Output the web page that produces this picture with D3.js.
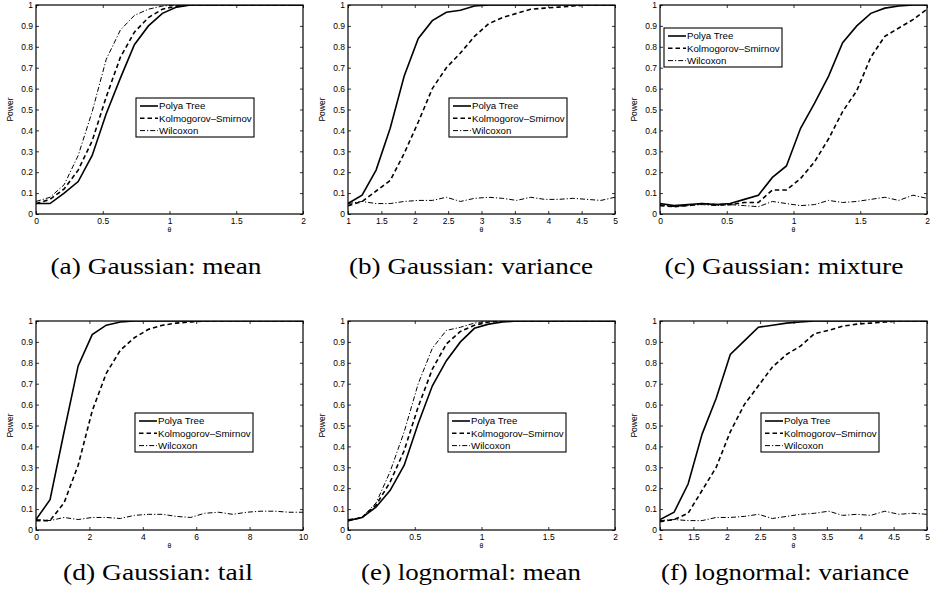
<!DOCTYPE html>
<html>
<head>
<meta charset="utf-8">
<script src="https://d3js.org/d3.v7.min.js"></script>
<style>
  body { margin: 0; background: #fff; }
  svg { display: block; }
  .tick text { font-family: "Liberation Sans", Arial, sans-serif; }
</style>
</head>
<body>
<div id="chart"></div>
<script>
// theta grids (20 points each)
const thetaA = [0, 0.105, 0.211, 0.316, 0.421, 0.526, 0.632, 0.737, 0.842, 0.947, 1.053, 1.158, 1.263, 1.368, 1.474, 1.579, 1.684, 1.789, 1.895, 2];
const thetaB = [1, 1.211, 1.421, 1.632, 1.842, 2.053, 2.263, 2.474, 2.684, 2.895, 3.105, 3.316, 3.526, 3.737, 3.947, 4.158, 4.368, 4.579, 4.789, 5];
const thetaD = [0, 0.526, 1.053, 1.579, 2.105, 2.632, 3.158, 3.684, 4.211, 4.737, 5.263, 5.789, 6.316, 6.842, 7.368, 7.895, 8.421, 8.947, 9.474, 10];

// (a) Gaussian: mean
const polyaA = [0.05, 0.05, 0.10, 0.155, 0.28, 0.48, 0.65, 0.81, 0.90, 0.96, 0.99, 1, 1, 1, 1, 1, 1, 1, 1, 1];
const ksA    = [0.05, 0.07, 0.12, 0.21, 0.35, 0.56, 0.75, 0.87, 0.94, 0.98, 0.995, 1, 1, 1, 1, 1, 1, 1, 1, 1];
const wilA   = [0.06, 0.08, 0.14, 0.28, 0.49, 0.74, 0.88, 0.95, 0.98, 0.995, 1, 1, 1, 1, 1, 1, 1, 1, 1, 1];

// (b) Gaussian: variance
const polyaB = [0.05, 0.09, 0.21, 0.41, 0.66, 0.84, 0.925, 0.965, 0.975, 0.995, 1, 1, 1, 1, 1, 1, 1, 1, 1, 1];
const ksB    = [0.04, 0.06, 0.11, 0.16, 0.29, 0.44, 0.60, 0.70, 0.77, 0.85, 0.91, 0.94, 0.96, 0.98, 0.985, 0.99, 0.995, 1, 1, 1];
const wilB   = [0.05, 0.06, 0.05, 0.05, 0.06, 0.065, 0.065, 0.08, 0.06, 0.075, 0.08, 0.075, 0.065, 0.08, 0.07, 0.07, 0.075, 0.07, 0.065, 0.08];

// (c) Gaussian: mixture
const polyaC = [0.05, 0.04, 0.045, 0.05, 0.045, 0.05, 0.07, 0.09, 0.175, 0.23, 0.41, 0.53, 0.66, 0.82, 0.90, 0.96, 0.985, 0.995, 1, 1];
const ksC    = [0.04, 0.035, 0.04, 0.05, 0.045, 0.045, 0.055, 0.055, 0.115, 0.115, 0.17, 0.25, 0.36, 0.49, 0.59, 0.75, 0.85, 0.89, 0.93, 0.98];
const wilC   = [0.045, 0.035, 0.04, 0.045, 0.04, 0.045, 0.04, 0.035, 0.06, 0.05, 0.04, 0.045, 0.065, 0.055, 0.06, 0.07, 0.08, 0.065, 0.09, 0.075];

// (d) Gaussian: tail
const polyaD = [0.05, 0.145, 0.47, 0.785, 0.935, 0.98, 0.995, 1, 1, 1, 1, 1, 1, 1, 1, 1, 1, 1, 1, 1];
const ksD    = [0.045, 0.045, 0.13, 0.31, 0.57, 0.75, 0.86, 0.92, 0.96, 0.98, 0.99, 0.995, 1, 1, 1, 1, 1, 1, 1, 1];
const wilD   = [0.05, 0.045, 0.06, 0.05, 0.06, 0.06, 0.055, 0.07, 0.075, 0.075, 0.065, 0.06, 0.08, 0.085, 0.075, 0.085, 0.09, 0.09, 0.085, 0.085];

// (e) lognormal: mean
const polyaE = [0.045, 0.06, 0.11, 0.19, 0.31, 0.51, 0.69, 0.81, 0.90, 0.965, 0.985, 0.995, 1, 1, 1, 1, 1, 1, 1, 1];
const ksE    = [0.045, 0.06, 0.12, 0.23, 0.38, 0.59, 0.77, 0.89, 0.95, 0.98, 0.995, 1, 1, 1, 1, 1, 1, 1, 1, 1];
const wilE   = [0.05, 0.06, 0.13, 0.28, 0.47, 0.70, 0.87, 0.955, 0.97, 0.99, 1, 1, 1, 1, 1, 1, 1, 1, 1, 1];

// (f) lognormal: variance
const polyaF = [0.05, 0.085, 0.22, 0.46, 0.63, 0.84, 0.905, 0.97, 0.98, 0.99, 0.995, 1, 1, 1, 1, 1, 1, 1, 1, 1];
const ksF    = [0.04, 0.05, 0.08, 0.19, 0.30, 0.47, 0.60, 0.69, 0.78, 0.84, 0.88, 0.94, 0.955, 0.975, 0.985, 0.99, 0.995, 1, 1, 1];
const wilF   = [0.045, 0.05, 0.045, 0.045, 0.06, 0.06, 0.065, 0.075, 0.055, 0.065, 0.075, 0.08, 0.09, 0.07, 0.075, 0.07, 0.09, 0.075, 0.08, 0.075];

// tick values
const yTicks = [0, 0.1, 0.2, 0.3, 0.4, 0.5, 0.6, 0.7, 0.8, 0.9, 1];
const xTicks02 = [0, 0.5, 1, 1.5, 2];
const xTicks15 = [1, 1.5, 2, 2.5, 3, 3.5, 4, 4.5, 5];
const xTicks010 = [0, 2, 4, 6, 8, 10];

const seriesNames = ["Polya Tree", "Kolmogorov\u2013Smirnov", "Wilcoxon"];
const captions = ["(a) Gaussian: mean", "(b) Gaussian: variance", "(c) Gaussian: mixture",
                  "(d) Gaussian: tail", "(e) lognormal: mean", "(f) lognormal: variance"];

const width = 930, height = 601;
const plotW = 267, plotH = 209;

// line styles: solid, dashed, dash-dot
const styles = [
  {dash: null, w: 1.6},
  {dash: "4.5,3", w: 1.6},
  {dash: "5,2,1.2,2", w: 1}
];

const svg = d3.select("#chart").append("svg")
  .attr("width", width)
  .attr("height", height);

// cap = [centre x, baseline y, text width]
const panels = [
  {left: 36,  top: 5,   xDom: [0, 2],  xTicks: xTicks02,  theta: thetaA, ys: [polyaA, ksA, wilA], leg: [136, 98],  cap: [156, 274, 211]},
  {left: 348, top: 5,   xDom: [1, 5],  xTicks: xTicks15,  theta: thetaB, ys: [polyaB, ksB, wilB], leg: [449, 98],  cap: [471, 274, 244]},
  {left: 660, top: 5,   xDom: [0, 2],  xTicks: xTicks02,  theta: thetaA, ys: [polyaC, ksC, wilC], leg: [664, 28],  cap: [784, 274, 239]},
  {left: 36,  top: 321, xDom: [0, 10], xTicks: xTicks010, theta: thetaD, ys: [polyaD, ksD, wilD], leg: [135, 413], cap: [158, 580, 190]},
  {left: 348, top: 321, xDom: [0, 2],  xTicks: xTicks02,  theta: thetaA, ys: [polyaE, ksE, wilE], leg: [448, 413], cap: [471, 580, 220]},
  {left: 660, top: 321, xDom: [1, 5],  xTicks: xTicks15,  theta: thetaB, ys: [polyaF, ksF, wilF], leg: [761, 413], cap: [785, 580, 248]}
];

panels.forEach((p, idx) => {
  const g = svg.append("g").attr("transform", "translate(" + p.left + "," + p.top + ")");

  const X = d3.scaleLinear().domain(p.xDom).range([0, plotW]);
  const Y = d3.scaleLinear().domain([0, 1]).range([plotH, 0]);

  // lines (clipped)
  const clipId = "clip" + idx;
  g.append("clipPath").attr("id", clipId)
    .append("rect").attr("width", plotW).attr("height", plotH);

  const line = d3.line()
    .x((d) => X(d[0]))
    .y((d) => Y(d[1]));

  p.ys.forEach((vals, k) => {
    const pts = p.theta.map((t, i) => [t, vals[i]]);
    g.append("path")
      .datum(pts)
      .attr("clip-path", "url(#" + clipId + ")")
      .attr("d", line)
      .attr("fill", "none")
      .attr("stroke", "#000")
      .attr("stroke-width", styles[k].w)
      .attr("stroke-dasharray", styles[k].dash);
  });

  // axes: ticks pointing inward, on all four sides
  const fmt = (d) => String(d);
  const bottom = g.append("g").attr("transform", "translate(0," + plotH + ")")
    .call(d3.axisBottom(X).tickValues(p.xTicks).tickFormat(fmt).tickSizeInner(-3).tickSizeOuter(0).tickPadding(4));
  const left = g.append("g")
    .call(d3.axisLeft(Y).tickValues(yTicks).tickFormat(fmt).tickSizeInner(-3).tickSizeOuter(0).tickPadding(3));
  const top = g.append("g")
    .call(d3.axisTop(X).tickValues(p.xTicks).tickFormat("").tickSizeInner(-3).tickSizeOuter(0));
  const right = g.append("g").attr("transform", "translate(" + plotW + ",0)")
    .call(d3.axisRight(Y).tickValues(yTicks).tickFormat("").tickSizeInner(-3).tickSizeOuter(0));

  [bottom, left, top, right].forEach((a) => {
    a.select(".domain").remove();
    a.selectAll("line").attr("stroke", "#000").attr("stroke-width", 0.8);
    a.selectAll("text").attr("font-size", 8.5).attr("fill", "#000");
  });
  bottom.selectAll("text").attr("dy", "0.71em");

  // box
  g.append("rect")
    .attr("width", plotW).attr("height", plotH)
    .attr("fill", "none").attr("stroke", "#000").attr("stroke-width", 1.2);

  // axis labels
  g.append("text")
    .attr("transform", "translate(-23," + (plotH / 2) + ") rotate(-90)")
    .attr("text-anchor", "middle")
    .attr("font-family", "Liberation Sans, Arial, sans-serif")
    .attr("font-size", 8.5)
    .text("Power");
  g.append("text")
    .attr("x", plotW / 2).attr("y", plotH + 18)
    .attr("text-anchor", "middle")
    .attr("font-family", "Liberation Sans, Arial, sans-serif")
    .attr("font-size", 7)
    .text("\u03b8");

  // legend
  const lg = svg.append("g").attr("transform", "translate(" + p.leg[0] + "," + p.leg[1] + ")");
  lg.append("rect")
    .attr("width", 118).attr("height", 39)
    .attr("fill", "#fff").attr("stroke", "#000").attr("stroke-width", 1.1);
  seriesNames.forEach((name, k) => {
    const yy = 8 + k * 12.3;
    lg.append("line")
      .attr("x1", 4).attr("x2", 22).attr("y1", yy).attr("y2", yy)
      .attr("stroke", "#000")
      .attr("stroke-width", styles[k].w)
      .attr("stroke-dasharray", styles[k].dash);
    lg.append("text")
      .attr("x", 23).attr("y", yy)
      .attr("dy", "0.35em")
      .attr("font-family", "Liberation Sans, Arial, sans-serif")
      .attr("font-size", 9.7)
      .text(name);
  });

  // caption (Computer Modern is wider than Times, so stretch to the measured width)
  svg.append("text")
    .attr("x", p.cap[0] - p.cap[2] / 2)
    .attr("y", p.cap[1])
    .attr("textLength", p.cap[2])
    .attr("lengthAdjust", "spacingAndGlyphs")
    .attr("font-family", "Liberation Serif, DejaVu Serif, serif")
    .attr("font-size", 22.5)
    .text(captions[idx]);
});
</script>
</body>
</html>
